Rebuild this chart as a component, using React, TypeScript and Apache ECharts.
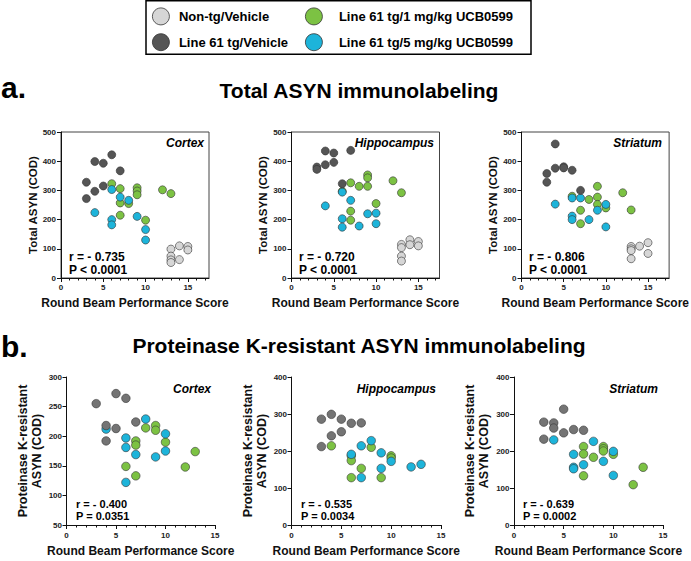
import React, { useEffect, useRef } from 'react';
import * as echarts from 'echarts';

const GROUPS = ['Non-tg/Vehicle', 'Line 61 tg/Vehicle', 'Line 61 tg/1 mg/kg UCB0599', 'Line 61 tg/5 mg/kg UCB0599'];
const REGIONS = ['Cortex', 'Hippocampus', 'Striatum'];
const X_LABEL_TICKS = [0, 5, 10, 15];

// a. Total ASYN immunolabeling  [Round Beam score, COD]
const totalCortexNonTg = [[13, 99], [13, 75], [13, 62], [13, 53], [14, 110], [14, 63], [15, 108], [15, 96]];
const totalCortexTgVeh = [[3, 328], [3, 272], [4, 399], [4, 297], [5, 393], [5, 315], [6, 422], [7, 367]];
const totalCortex1mg = [[6, 323], [7, 306], [7, 257], [7, 215], [8, 255], [9, 309], [9, 298], [9, 285], [10, 198], [12, 302], [13, 289]];
const totalCortex5mg = [[4, 224], [6, 303], [6, 200], [6, 182], [7, 277], [8, 266], [9, 211], [10, 166], [10, 130]];

const totalHippoNonTg = [[13, 115], [13, 104], [13, 75], [13, 58], [14, 131], [14, 114], [15, 125], [15, 110]];
const totalHippoTgVeh = [[3, 380], [3, 372], [4, 435], [4, 388], [5, 428], [5, 396], [6, 323], [7, 437]];
const totalHippo1mg = [[6, 297], [7, 326], [7, 229], [7, 198], [8, 314], [9, 353], [9, 343], [9, 314], [10, 255], [12, 333], [13, 292]];
const totalHippo5mg = [[4, 247], [6, 294], [6, 203], [6, 174], [7, 266], [8, 178], [9, 220], [10, 222], [10, 186]];

const totalStriatumNonTg = [[13, 108], [13, 100], [13, 94], [13, 66], [14, 109], [15, 121], [15, 84]];
const totalStriatumTgVeh = [[3, 358], [3, 328], [4, 459], [4, 376], [5, 381], [5, 377], [6, 369], [7, 300]];
const totalStriatum1mg = [[6, 280], [7, 232], [7, 186], [8, 269], [9, 314], [9, 277], [9, 252], [10, 240], [12, 292], [13, 233]];
const totalStriatum5mg = [[4, 253], [6, 274], [6, 212], [6, 200], [7, 274], [8, 200], [9, 232], [10, 252], [10, 175]];

// b. Proteinase K-resistant ASYN immunolabeling
const pkCortexTgVeh = [[3, 255], [4, 218], [4, 192], [5, 272], [5, 213], [6, 264], [7, 224]];
const pkCortex1mg = [[6, 149], [7, 192], [7, 185], [7, 133], [8, 214], [9, 218], [9, 210], [10, 190], [12, 148], [13, 174]];
const pkCortex5mg = [[4, 212], [6, 197], [6, 181], [6, 122], [7, 169], [8, 229], [9, 165], [10, 204], [10, 175]];

const pkHippoTgVeh = [[3, 286], [3, 212], [4, 299], [4, 241], [5, 286], [5, 252], [6, 275], [7, 276]];
const pkHippo1mg = [[4, 214], [6, 187], [6, 174], [6, 128], [7, 153], [8, 210], [9, 128], [10, 187], [10, 181]];
const pkHippo5mg = [[6, 191], [7, 214], [7, 128], [8, 228], [9, 195], [9, 153], [10, 172], [12, 157], [13, 164]];

const pkStriatumTgVeh = [[3, 278], [3, 232], [4, 276], [4, 262], [5, 313], [5, 249], [6, 258], [7, 256]];
const pkStriatum1mg = [[7, 212], [7, 192], [7, 133], [8, 183], [9, 212], [9, 206], [9, 200], [10, 191], [12, 109], [13, 156]];
const pkStriatum5mg = [[4, 230], [6, 191], [6, 156], [6, 152], [7, 163], [8, 226], [9, 172], [10, 199], [10, 134]];

const TOTAL_STATS = [['r = - 0.735', 'P < 0.0001'], ['r = - 0.720', 'P < 0.0001'], ['r = - 0.806', 'P < 0.0001']];
const PK_STATS = [['r = - 0.400', 'P = 0.0351'], ['r = - 0.535', 'P = 0.0034'], ['r = - 0.639', 'P = 0.0002']];

const FONT = '"Liberation Sans", Arial, Helvetica, sans-serif';
const COL_NONTG = '#d6d6d6';
const COL_TG_TOP = '#555555';
const COL_TG_BOTTOM = '#747474';
const COL_1MG = '#7cc243';
const COL_5MG = '#1db4da';

export default function App() {
  const ref = useRef<HTMLDivElement>(null);
  useEffect(() => {
    if (!ref.current) return;
    const chart = echarts.init(ref.current, undefined, { renderer: 'svg' });

    const topData = [
      [totalCortexNonTg, totalCortexTgVeh, totalCortex1mg, totalCortex5mg],
      [totalHippoNonTg, totalHippoTgVeh, totalHippo1mg, totalHippo5mg],
      [totalStriatumNonTg, totalStriatumTgVeh, totalStriatum1mg, totalStriatum5mg],
    ];
    const botData = [
      [null, pkCortexTgVeh, pkCortex1mg, pkCortex5mg],
      [null, pkHippoTgVeh, pkHippo1mg, pkHippo5mg],
      [null, pkStriatumTgVeh, pkStriatum1mg, pkStriatum5mg],
    ];

    const topLefts = [61, 291.5, 521.5];
    const botLefts = [66.5, 291.5, 514];
    const botWidths = [148.5, 149.5, 149];

    const grids: any[] = [];
    const xAxes: any[] = [];
    const yAxes: any[] = [];
    const series: any[] = [];
    const graphics: any[] = [];

    const tickLabel = { fontFamily: FONT, fontWeight: 'bold', fontSize: 8, color: '#222' };
    const axisName = { fontFamily: FONT, fontWeight: 'bold', fontSize: 12, color: '#111' };

    const addSeries = (panel: number, groups: any[], tgColor: string, size: number) => {
      const order = [0, 2, 3, 1];
      const colors = [COL_NONTG, tgColor, COL_1MG, COL_5MG];
      order.forEach((g) => {
        if (!groups[g]) return;
        series.push({
          type: 'scatter',
          name: GROUPS[g],
          xAxisIndex: panel,
          yAxisIndex: panel,
          data: groups[g],
          symbol: 'circle',
          symbolSize: size,
          itemStyle: { color: colors[g], borderColor: '#333', borderWidth: 0.6, opacity: 1 },
          emphasis: { disabled: true },
        });
      });
    };

    for (let i = 0; i < 3; i++) {
      grids.push({ left: topLefts[i], top: 132, width: 148, height: 146, show: true, borderColor: '#444', borderWidth: 1, backgroundColor: 'transparent' });
      xAxes.push({
        type: 'value', gridIndex: i, min: 0, max: 17.5, interval: 5,
        axisLine: { lineStyle: { color: '#111', width: 1 } },
        axisTick: { show: true, length: 4, customValues: X_LABEL_TICKS, lineStyle: { color: '#111' } },
        minorTick: { show: true, splitNumber: 5, length: 2.5, lineStyle: { color: '#111' } },
        axisLabel: { ...tickLabel, margin: 5, customValues: X_LABEL_TICKS, formatter: (v: number) => (v % 5 === 0 ? String(v) : '') },
        splitLine: { show: false },
        name: 'Round Beam Performance Score', nameLocation: 'middle', nameGap: 19, nameTextStyle: axisName,
      });
      yAxes.push({
        type: 'value', gridIndex: i, min: 0, max: 500, interval: 100,
        axisLine: { show: true, lineStyle: { color: '#111', width: 1 } },
        axisTick: { show: true, length: 4, lineStyle: { color: '#111' } },
        axisLabel: { ...tickLabel, margin: 5 },
        splitLine: { show: false },
        name: 'Total ASYN (COD)', nameLocation: 'middle', nameGap: 16,
        nameTextStyle: { ...axisName, fontSize: 11.5 },
      });
      addSeries(i, topData[i], COL_TG_TOP, 8);
    }

    for (let i = 0; i < 3; i++) {
      const gi = i + 3;
      grids.push({ left: botLefts[i], top: 377, width: botWidths[i], height: 148, show: false });
      xAxes.push({
        type: 'value', gridIndex: gi, min: 0, max: 15, interval: 5,
        axisLine: { lineStyle: { color: '#111', width: 1 } },
        axisTick: { show: true, length: 4, lineStyle: { color: '#111' } },
        minorTick: { show: true, splitNumber: 5, length: 2.5, lineStyle: { color: '#111' } },
        axisLabel: { ...tickLabel, margin: 6 },
        splitLine: { show: false },
        name: 'Round Beam Performance Score', nameLocation: 'middle', nameGap: 20, nameTextStyle: axisName,
      });
      yAxes.push({
        type: 'value', gridIndex: gi,
        min: i === 0 ? 50 : 0, max: i === 0 ? 300 : 400, interval: i === 0 ? 50 : 100,
        axisLine: { show: true, lineStyle: { color: '#111', width: 1 } },
        axisTick: { show: true, length: 4, lineStyle: { color: '#111' } },
        axisLabel: { ...tickLabel, margin: 4.5 },
        splitLine: { show: false },
        name: 'Proteinase K-resistant\nASYN (COD)', nameLocation: 'middle', nameGap: 23,
        nameTextStyle: { ...axisName, fontSize: 12.5, lineHeight: 14 },
      });
      addSeries(gi, botData[i], COL_TG_BOTTOM, 8.5);
    }

    const txt = (text: string, x: number, y: number, size: number, opts: any = {}) => ({
      type: 'text', x, y, silent: true,
      style: {
        text, fill: '#000', fontFamily: FONT, fontWeight: 'bold', fontSize: size,
        align: opts.align || 'left', textAlign: opts.align || 'left',
        verticalAlign: 'middle', textVerticalAlign: 'middle',
        fontStyle: opts.italic ? 'italic' : 'normal',
      },
    });

    // legend box
    graphics.push({ type: 'rect', silent: true, shape: { x: 146, y: 0.75, width: 385, height: 53.5 }, style: { fill: 'none', stroke: '#000', lineWidth: 1.5 } });
    // panel letters and titles
    graphics.push(txt('a.', 1, 87.5, 30));
    graphics.push(txt('Total ASYN immunolabeling', 359, 90, 21, { align: 'center' }));
    graphics.push(txt('b.', 1, 346, 30));
    graphics.push(txt('Proteinase K-resistant ASYN immunolabeling', 359, 345.5, 21, { align: 'center' }));

    const topRights = [204, 434, 662];
    const botRights = [211, 436, 658];
    const topStatX = [69, 299, 529];
    const botStatX = [76, 301, 523];
    for (let i = 0; i < 3; i++) {
      graphics.push(txt(REGIONS[i], topRights[i], 143, 12, { align: 'right', italic: true }));
      graphics.push(txt(REGIONS[i], botRights[i], 389, 12, { align: 'right', italic: true }));
      graphics.push(txt(TOTAL_STATS[i][0], topStatX[i], 257, 12));
      graphics.push(txt(TOTAL_STATS[i][1], topStatX[i], 269.5, 12));
      graphics.push(txt(PK_STATS[i][0], botStatX[i], 504, 11));
      graphics.push(txt(PK_STATS[i][1], botStatX[i], 516, 11));
    }

    const legendText = { fontFamily: FONT, fontWeight: 'bold', fontSize: 13, color: '#000' };
    chart.setOption({
      animation: false,
      backgroundColor: '#ffffff',
      legend: [
        { data: [GROUPS[0], GROUPS[1]], orient: 'vertical', left: 152, top: 7.5, padding: 0, itemWidth: 26, itemHeight: 17, itemGap: 8, icon: 'circle', selectedMode: false, textStyle: legendText, itemStyle: { borderColor: '#333', borderWidth: 0.8 } },
        { data: [GROUPS[2], GROUPS[3]], orient: 'vertical', left: 305, top: 7.5, padding: 0, itemWidth: 40, itemHeight: 17, itemGap: 8, icon: 'circle', selectedMode: false, textStyle: legendText, itemStyle: { borderColor: '#333', borderWidth: 0.8 } },
      ],
      grid: grids,
      xAxis: xAxes,
      yAxis: yAxes,
      series,
      graphic: graphics,
    });
    return () => chart.dispose();
  }, []);
  return <div ref={ref} style={{ position: 'absolute', left: 0, top: 0, width: 691, height: 561 }} />;
}
